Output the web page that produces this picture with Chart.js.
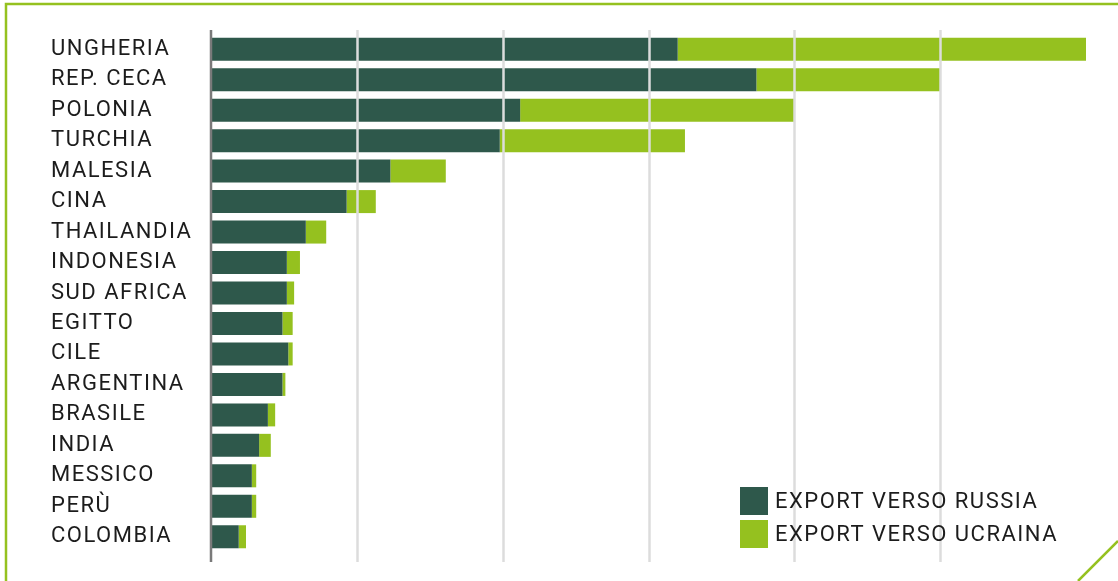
<!DOCTYPE html>
<html>
<head>
<meta charset="utf-8">
<script src="https://cdn.jsdelivr.net/npm/chart.js@4"></script>
<style>
    html, body { margin: 0; padding: 0; background: #ffffff; }
    #chart { display: block; }
</style>
</head>
<body>
<canvas id="chart" width="1118" height="581"></canvas>
<script>
// values in grid units (one unit = one vertical gridline step)
const categories = [
    "UNGHERIA", "REP. CECA", "POLONIA", "TURCHIA", "MALESIA", "CINA",
    "THAILANDIA", "INDONESIA", "SUD AFRICA", "EGITTO", "CILE", "ARGENTINA",
    "BRASILE", "INDIA", "MESSICO", "PERÙ", "COLOMBIA",
];
const exportRussia = [3.20, 3.74, 2.12, 1.98, 1.23, 0.93, 0.65, 0.52, 0.52, 0.49, 0.53, 0.49, 0.39, 0.33, 0.28, 0.28, 0.19];
const exportUcraina = [2.81, 1.26, 1.88, 1.27, 0.38, 0.20, 0.14, 0.09, 0.05, 0.07, 0.03, 0.02, 0.05, 0.08, 0.03, 0.03, 0.05];
const seriesLabels = ["EXPORT VERSO RUSSIA", "EXPORT VERSO UCRAINA"];
const xMax = 6;

const DARK = "#2e584b";
const LIME = "#95c11f";
const FONT = "Roboto, 'Noto Sans', sans-serif";
const LETTERS = "1.5px";

// letter spacing has to be set again after every canvas reset
const spacing = {
    id: "spacing",
    beforeUpdate(chart) { chart.ctx.letterSpacing = LETTERS; },
    beforeDraw(chart) { chart.ctx.letterSpacing = LETTERS; },
};

const decor = {
    id: "decor",
    afterDatasetsDraw(chart) {
        const ctx = chart.ctx;
        const area = chart.chartArea;
        const x = chart.scales.x;
        ctx.save();

        // gridlines are painted above the bars
        ctx.strokeStyle = "#dcdcdc";
        ctx.lineWidth = 2.5;
        x.ticks.forEach((t) => {
            if (t.value <= 0 || t.value >= xMax) return;
            const px = Math.round(x.getPixelForValue(t.value)) + 0.5;
            ctx.beginPath();
            ctx.moveTo(px, area.top - 4);
            ctx.lineTo(px, area.bottom + 10);
            ctx.stroke();
        });

        // value axis start line
        ctx.strokeStyle = "#7a7a7a";
        ctx.lineWidth = 2.5;
        const x0 = x.getPixelForValue(0);
        ctx.beginPath();
        ctx.moveTo(x0, area.top - 4);
        ctx.lineTo(x0, area.bottom + 10);
        ctx.stroke();
        ctx.restore();
    },
    afterDraw(chart) {
        const ctx = chart.ctx;
        const W = chart.width;
        const H = chart.height;
        ctx.save();

        // frame
        ctx.strokeStyle = LIME;
        ctx.lineWidth = 2.5;
        ctx.beginPath();
        ctx.moveTo(6, H);
        ctx.lineTo(6, 4);
        ctx.lineTo(W, 4);
        ctx.stroke();
        ctx.beginPath();
        ctx.moveTo(W - 40, H);
        ctx.lineTo(W, H - 40);
        ctx.stroke();

        // legend
        ctx.letterSpacing = LETTERS;
        ctx.font = "22px " + FONT;
        ctx.textBaseline = "middle";
        ctx.textAlign = "left";
        chart.data.datasets.forEach((ds, i) => {
            const top = 487 + i * 33;
            ctx.fillStyle = ds.backgroundColor;
            ctx.fillRect(740, top, 28, 28);
            ctx.fillStyle = "#1c1c1c";
            ctx.fillText(ds.label, 775, top + 15);
        });
        ctx.restore();
    },
};

new Chart(document.getElementById("chart"), {
    type: "bar",
    data: {
        labels: categories,
        datasets: [
            { label: seriesLabels[0], data: exportRussia, backgroundColor: DARK },
            { label: seriesLabels[1], data: exportUcraina, backgroundColor: LIME },
        ],
    },
    options: {
        indexAxis: "y",
        responsive: false,
        animation: false,
        barPercentage: 0.755,
        categoryPercentage: 1,
        layout: { padding: { left: 51, top: 34, right: 32, bottom: 29 } },
        plugins: {
            legend: { display: false },
            tooltip: { enabled: false },
        },
        scales: {
            x: {
                stacked: true,
                min: 0,
                max: xMax,
                display: false,
                ticks: { stepSize: 1 },
            },
            y: {
                stacked: true,
                grid: { display: false },
                border: { display: false },
                afterFit: (scale) => { scale.width = 160; },
                ticks: {
                    crossAlign: "far",
                    color: "#1c1c1c",
                    font: { family: FONT, size: 22 },
                },
            },
        },
    },
    plugins: [spacing, decor],
});
</script>
</body>
</html>
